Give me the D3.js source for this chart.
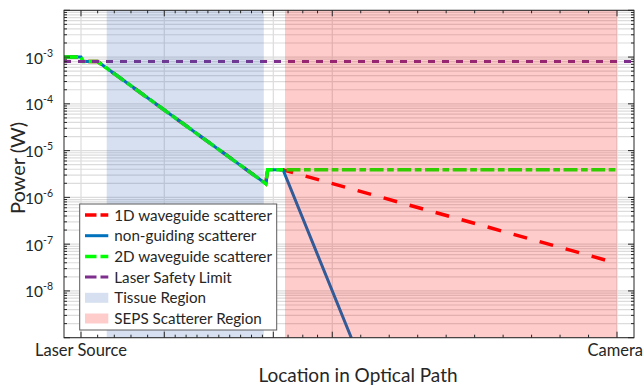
<!DOCTYPE html>
<html>
<head>
<meta charset="utf-8">
<script src="https://cdn.jsdelivr.net/npm/d3@7"></script>
<style>
  html, body { margin: 0; padding: 0; background: #fff; }
  svg { display: block; }
  text { font-family: Lato, "Open Sans", sans-serif; fill: #262626; }
</style>
</head>
<body>
<svg id="chart" width="644" height="390"></svg>
<script>
// Optical path position: 0 = laser source, 100 = camera
const xMajorTicks = [0, 15.54, 35.88, 46.88, 100];
const xMinorDivisions = [5, 10, 4, 10];
const xTickLabels = ["Laser Source", "", "", "", "Camera"];
const xLimits = [-3.17, 103.17];

const yLimits = [1e-9, 1e-2];
const yLabelDecades = [-3, -4, -5, -6, -7, -8];

// Power along the optical path for each scatterer type
const oneDX = [-3.17, 0, 0.4, 3.1, 34.46, 34.83, 37.69, 100];
const oneDP = [1e-3, 1e-3, 8e-4, 8e-4, 1.97e-6, 3.9e-6, 3.9e-6, 3.9e-8];
const nonGuidingX = [-3.17, 0, 0.4, 3.1, 34.46, 34.83, 37.69, 50.43];
const nonGuidingP = [1e-3, 1e-3, 8e-4, 8e-4, 1.97e-6, 3.9e-6, 3.9e-6, 1e-9];
const twoDX = [-3.17, 0, 0.4, 3.1, 34.46, 34.83, 37.69, 100];
const twoDP = [1e-3, 1e-3, 8e-4, 8e-4, 1.97e-6, 3.9e-6, 3.9e-6, 3.9e-6];
const safetyX = [-3.17, 103.17];
const safetyP = [8e-4, 8e-4];

// Shaded regions along the path
const tissueRange = [4.8, 34.1];
const sepsRange = [38.06, 100];

const seriesNames = ["1D waveguide scatterer", "non-guiding scatterer", "2D waveguide scatterer", "Laser Safety Limit"];
const regionNames = ["Tissue Region", "SEPS Scatterer Region"];

const plot = { left: 64, right: 634, top: 10.3, bottom: 337.7 };
const svg = d3.select("#chart");
const ink = "#262626";

const x = d3.scaleLinear().domain(xLimits).range([plot.left, plot.right]);
const y = d3.scaleLog().domain(yLimits).range([plot.bottom, plot.top]);

// minor tick positions between consecutive major ticks
const xMinor = [];
xMinorDivisions.forEach((n, i) => {
  const a = xMajorTicks[i], b = xMajorTicks[i + 1];
  for (let k = 1; k < n; k++) xMinor.push(a + (b - a) * k / n);
});
const yMajor = d3.range(-9, -1).map(e => Math.pow(10, e));
const yMinor = [];
d3.range(-9, -2).forEach(e => { for (let m = 2; m <= 9; m++) yMinor.push(m * Math.pow(10, e)); });

svg.append("defs").append("clipPath").attr("id", "clip")
  .append("rect").attr("x", plot.left).attr("y", plot.top)
  .attr("width", plot.right - plot.left).attr("height", plot.bottom - plot.top);

// grid
const grid = svg.append("g").attr("stroke", "#dcdcdc").attr("stroke-width", 1.2).attr("fill", "none");
yMinor.concat(yMajor).forEach(v => {
  grid.append("line").attr("x1", plot.left).attr("x2", plot.right)
    .attr("y1", y(v)).attr("y2", y(v));
});
xMajorTicks.forEach(v => {
  grid.append("line").attr("x1", x(v)).attr("x2", x(v))
    .attr("y1", plot.top).attr("y2", plot.bottom);
});

// data lines
const line = d3.line().x(d => x(d[0])).y(d => y(d[1]));
const series = [
  { xs: oneDX, ps: oneDP, color: "#ff0000", width: 3.5, dash: "14,13" },
  { xs: nonGuidingX, ps: nonGuidingP, color: "#0072bd", width: 3, dash: null },
  { xs: twoDX, ps: twoDP, color: "#00ff00", width: 3.5, dash: "14,3.5,6.7,3.5" },
  { xs: safetyX, ps: safetyP, color: "#7e2f8e", width: 3, dash: "7,7" }
];
const lines = svg.append("g").attr("clip-path", "url(#clip)");
series.forEach(s => {
  lines.append("path")
    .datum(s.xs.map((v, i) => [v, s.ps[i]]))
    .attr("d", line)
    .attr("fill", "none")
    .attr("stroke", s.color)
    .attr("stroke-width", s.width)
    .attr("stroke-dasharray", s.dash)
    .attr("stroke-linejoin", "miter");
});

// translucent regions drawn over the lines
const regions = [
  { range: tissueRange, color: "rgb(51,102,178)" },
  { range: sepsRange, color: "rgb(255,0,0)" }
];
regions.forEach(r => {
  svg.append("rect")
    .attr("x", x(r.range[0])).attr("y", plot.top)
    .attr("width", x(r.range[1]) - x(r.range[0]))
    .attr("height", plot.bottom - plot.top)
    .attr("fill", r.color).attr("fill-opacity", 0.2);
});

// axes box and ticks
const ax = svg.append("g").attr("stroke", ink).attr("stroke-width", 1).attr("fill", "none");
ax.append("rect").attr("x", plot.left).attr("y", plot.top)
  .attr("width", plot.right - plot.left).attr("height", plot.bottom - plot.top);
const tickX = (v, len) => {
  ax.append("line").attr("x1", x(v)).attr("x2", x(v)).attr("y1", plot.bottom).attr("y2", plot.bottom - len);
  ax.append("line").attr("x1", x(v)).attr("x2", x(v)).attr("y1", plot.top).attr("y2", plot.top + len);
};
xMajorTicks.forEach(v => tickX(v, 6));
xMinor.forEach(v => tickX(v, 3));
const tickY = (v, len) => {
  ax.append("line").attr("y1", y(v)).attr("y2", y(v)).attr("x1", plot.left).attr("x2", plot.left + len);
  ax.append("line").attr("y1", y(v)).attr("y2", y(v)).attr("x1", plot.right).attr("x2", plot.right - len);
};
yMajor.forEach(v => tickY(v, 6));
yMinor.forEach(v => tickY(v, 3));

// tick labels; the last one is kept inside the page edge
xMajorTicks.forEach((v, i) => {
  if (!xTickLabels[i]) return;
  const last = i === xMajorTicks.length - 1;
  svg.append("text").attr("x", last ? 643 : x(v)).attr("y", 356)
    .attr("text-anchor", last ? "end" : "middle").attr("font-size", 16.5).text(xTickLabels[i]);
});
yLabelDecades.forEach(e => {
  const t = svg.append("text").attr("x", 53).attr("y", y(Math.pow(10, e)) + 6.5)
    .attr("text-anchor", "end").attr("font-size", 15.5);
  t.append("tspan").text("10");
  t.append("tspan").attr("font-size", 10.5).attr("dy", -7).text(String(e));
});

// axis titles
svg.append("text").attr("x", 358).attr("y", 382).attr("text-anchor", "middle")
  .attr("font-size", 19).text("Location in Optical Path");
svg.append("text").attr("transform", "translate(25,168) rotate(-90)")
  .attr("text-anchor", "middle").attr("font-size", 20).text("Power (W)");

// legend
const lg = svg.append("g");
lg.append("rect").attr("x", 79.7).attr("y", 204).attr("width", 197).attr("height", 126)
  .attr("fill", "#fff").attr("stroke", "#5a5a5a").attr("stroke-width", 1);
const rowY = i => 215 + i * 20.7;
series.forEach((s, i) => {
  lg.append("line").attr("x1", 85).attr("x2", 108.3).attr("y1", rowY(i)).attr("y2", rowY(i))
    .attr("stroke", s.color).attr("stroke-width", s.width)
    .attr("stroke-dasharray", s.dash ? "11.5,4" : null);
  lg.append("text").attr("x", 114.3).attr("y", rowY(i) + 5.5).attr("font-size", 15.2).text(seriesNames[i]);
});
regions.forEach((r, j) => {
  const i = series.length + j;
  lg.append("rect").attr("x", 85).attr("y", rowY(i) - 5).attr("width", 23.3).attr("height", 10)
    .attr("fill", r.color).attr("fill-opacity", 0.2);
  lg.append("text").attr("x", 114.3).attr("y", rowY(i) + 5.5).attr("font-size", 15.2).text(regionNames[j]);
});
</script>
</body>
</html>
